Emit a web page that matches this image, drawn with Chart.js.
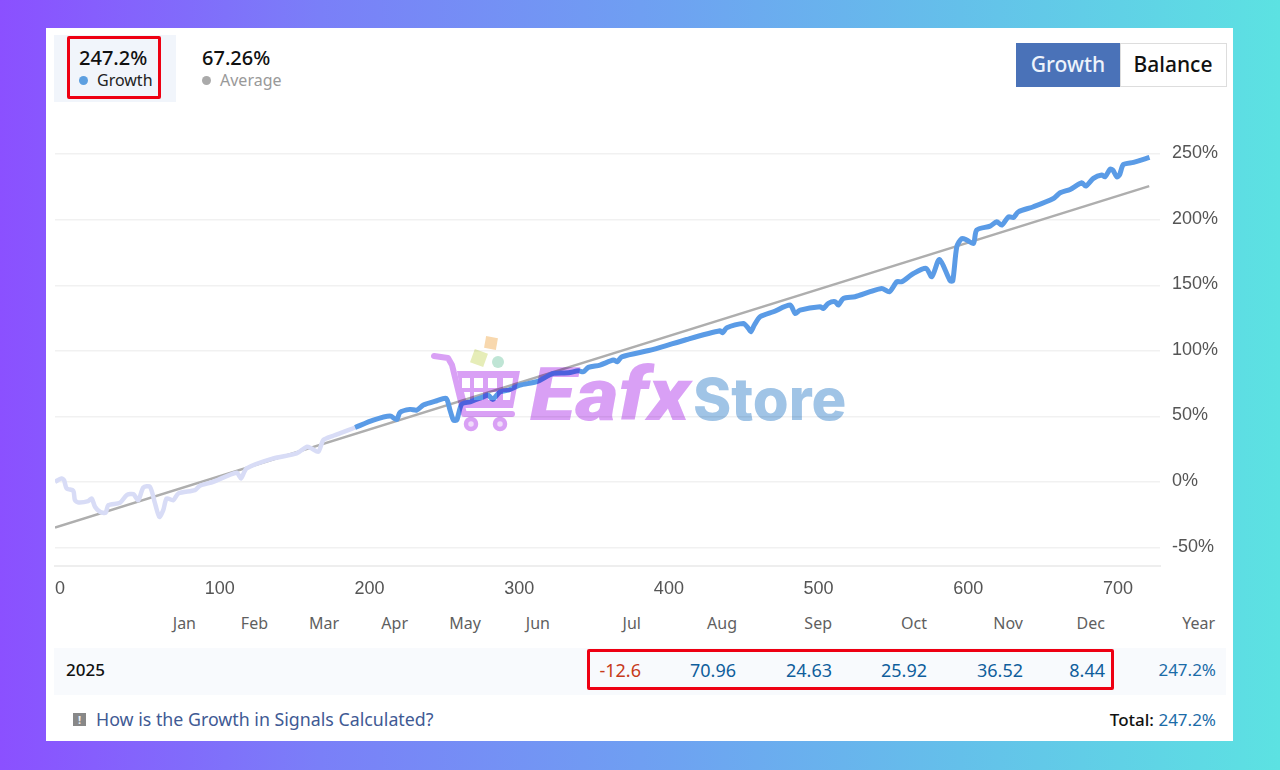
<!DOCTYPE html>
<html>
<head>
<meta charset="utf-8">
<title>Growth</title>
<script src="https://cdn.jsdelivr.net/npm/chart.js@4"></script>
<style>
    html, body { margin: 0; padding: 0; width: 1280px; height: 770px; overflow: hidden; }
    body { position: relative; background: linear-gradient(90deg, #8b50ff 0%, #7a7ff8 25%, #6f9ff2 50%, #64c0ea 75%, #5ce2e2 100%); font-family: "Noto Sans", sans-serif; }
    #card { position: absolute; left: 46px; top: 28px; width: 1187px; height: 713px; background: #fff; }
    #chart { position: absolute; left: 0; top: 0; }
    .abs { position: absolute; white-space: nowrap; line-height: 1; }
    .box { position: absolute; box-sizing: border-box; }
    .dot { position: absolute; width: 9px; height: 9px; border-radius: 50%; }
    .right { transform: translateX(-100%); }
    .center { transform: translateX(-50%); }
    #mark { position: absolute; left: 0; top: 0; mix-blend-mode: multiply; }
</style>
</head>
<body>
<div id="card"></div>

<!-- 上部の統計 -->
<div class="box" style="left:54px;top:35px;width:122px;height:67px;background:#f1f5fb"></div>
<div class="box" style="left:67px;top:36px;width:94px;height:63px;border:3px solid #ee0012;border-radius:2px"></div>
<div class="abs" id="statGrowth" style="left:79px;top:48px;font-size:20px;font-weight:500;color:#111"></div>
<div class="dot" style="left:79px;top:76px;background:#5d9fe0"></div>
<div class="abs" style="left:97px;top:72px;font-size:16px;color:#222">Growth</div>
<div class="abs" id="statAverage" style="left:202px;top:48px;font-size:20px;font-weight:500;color:#111"></div>
<div class="dot" style="left:202px;top:76px;background:#aaa"></div>
<div class="abs" style="left:220px;top:72px;font-size:16px;color:#999">Average</div>

<!-- ボタン -->
<div class="box" style="left:1016px;top:43px;width:105px;height:44px;background:#4a72b8"></div>
<div class="abs center" style="left:1068px;top:54px;font-size:21px;font-weight:500;color:#eef3fb">Growth</div>
<div class="box" style="left:1120px;top:43px;width:107px;height:44px;border:1px solid #ddd;background:#fff"></div>
<div class="abs center" style="left:1173px;top:54px;font-size:21px;font-weight:500;color:#111">Balance</div>

<!-- 月別テーブル -->
<div class="box" style="left:54px;top:648px;width:1172px;height:47px;background:#f8fafd"></div>
<div class="box" style="left:587px;top:649px;width:527px;height:41px;border:3px solid #ee0012;border-radius:2px"></div>
<div id="table"></div>
<div class="abs" id="yearLabel" style="left:66px;top:661px;font-size:17px;font-weight:500;color:#111"></div>

<!-- フッター -->
<div class="box" style="left:73px;top:713px;width:13px;height:13px;background:#888"></div>
<div class="abs" style="left:78px;top:714px;font-size:11px;font-weight:700;color:#eee">!</div>
<div class="abs" style="left:96px;top:711px;font-size:17.8px;color:#3f5a94">How is the Growth in Signals Calculated?</div>
<div class="abs right" id="totalLine" style="left:1216px;top:711px;font-size:17px;font-weight:500;color:#111"></div>

<canvas id="chart" width="1280" height="770"></canvas>

<!-- ウォーターマーク -->
<svg id="mark" width="1280" height="770">
    <rect x="485" y="337" width="12" height="12" fill="#f8d8ae" transform="rotate(10 491 343)"/>
    <rect x="472" y="351" width="14" height="14" fill="#e6edb8" transform="rotate(20 479 358)"/>
    <circle cx="498" cy="362" r="6" fill="#bfe5d5"/>
    <path d="M434 356 L448 358 L452 365 L464 414 L512 414" fill="none" stroke="#d9a0f5" stroke-width="6" stroke-linecap="round" stroke-linejoin="round"/>
    <path fill-rule="evenodd" fill="#d9a0f5" d="M457 371 L520 371 L513 408 L463 408 Z M462 378 L462 388 L470 388 L470 378 Z M474 378 L474 388 L483 388 L483 378 Z M488 378 L488 388 L497 388 L497 378 Z M503 378 L503 388 L512 388 L513 378 Z M464 392 L466 400 L470 400 L470 392 Z M474 392 L474 400 L483 400 L483 392 Z M488 392 L488 400 L497 400 L497 392 Z M503 392 L503 400 L510 400 L511 392 Z"/>
    <circle cx="471" cy="424" r="5" fill="#f0dcfb" stroke="#d9a0f5" stroke-width="4.5"/>
    <circle cx="500" cy="424" r="5" fill="#f0dcfb" stroke="#d9a0f5" stroke-width="4.5"/>
    <text x="530" y="420" font-family="Roboto, sans-serif" font-weight="900" font-size="74" font-style="italic" fill="#d9a0f5" textLength="160" lengthAdjust="spacingAndGlyphs">Eafx</text>
    <text x="693" y="420" font-family="Inter, sans-serif" font-weight="800" font-size="58" fill="#a0c4e6">Store</text>
</svg>

<script>
// ========================================
// データ
// ========================================

// 序盤の薄い線
const earlyX = [-10, -5.6, -4, -2.2, 2.2, 3.3, 5.6, 12.2, 14.5, 16.7, 20, 23.8, 25.6, 33.4, 37.9, 42.3, 45.6, 49, 53.4, 56.8, 59.7, 62.3, 64.6, 69, 72.4, 83.5, 86.8, 95.7, 111.3, 114.2, 118, 135.8, 151.4, 158.1, 161.4, 165.9, 169.2, 175.9, 190.4];
const earlyY = [0.2, 2.8, 1.5, -4.9, -6.6, -13.8, -15.5, -14.5, -12.5, -18.8, -22.6, -23.4, -17.6, -15.8, -9.9, -9.2, -13.8, -4.1, -3.6, -16.3, -26.5, -21.4, -12.5, -13.8, -8.7, -6.1, -2.8, 0.2, 7.1, 2.8, 10.4, 18, 21.8, 26.9, 25.6, 23.1, 32, 35.3, 41.6];

// 青い線
const growthX = [190.4, 202.6, 213.8, 218.2, 220.4, 227.1, 231.6, 236, 245, 251.2, 253.8, 256.1, 258.3, 261.6, 267.2, 276.1, 279.4, 282.3, 287.2, 292.8, 300.6, 311.7, 322.9, 332.9, 339.6, 342.9, 346.2, 354, 363, 365.6, 368.5, 389.7, 411.9, 434.2, 435.8, 438.7, 449.8, 453.1, 454.7, 457.1, 460.9, 469.8, 481, 484.3, 487.6, 501, 503.2, 506.5, 511, 513.2, 516.5, 524.3, 534.4, 542.2, 547.3, 552.2, 555.5, 563.3, 571.8, 575.6, 580.7, 587.8, 589.6, 592.3, 595.6, 598.9, 603.4, 605.6, 614.5, 619, 622.3, 626.8, 630.1, 633.4, 643.5, 656.8, 661.3, 668, 675.8, 678.4, 683.5, 689.1, 691.3, 694.7, 696.5, 699.1, 700.9, 703.6, 710.3, 721];
const growthY = [41.6, 47.2, 50.3, 47.7, 53.1, 55.4, 54.8, 58.7, 62, 63.8, 54.9, 47.2, 47.2, 59.4, 61.2, 65, 66.3, 63, 68.8, 70.1, 73.9, 76.5, 82.8, 83.3, 84.8, 84.1, 87.4, 89.2, 93, 91.7, 95.5, 101.1, 108.7, 115.3, 113.8, 117.6, 120.9, 117.1, 114.6, 119.7, 126, 129.8, 134.9, 128.5, 131.1, 133.6, 132.4, 136.2, 137.5, 134.9, 140, 141.3, 145.1, 147.6, 145.1, 152.7, 152.7, 159, 162.9, 156.5, 169.7, 153.5, 153.5, 179.4, 185.7, 184.5, 181.9, 192.1, 195.1, 198.4, 195.9, 202.2, 201.7, 206, 209.9, 216.2, 220.5, 223.1, 228.2, 225.6, 231.5, 234, 232.7, 238.6, 237.8, 232.7, 234, 242.1, 243.7, 247.5];

// 平均線
const averageX = [-10, 720.8];
const averageY = [-34.7, 225.6];

// 目盛り
const xTickValues = [-10, 100, 200, 300, 400, 500, 600, 700, 728];
const xTickLabels = ['0', '100', '200', '300', '400', '500', '600', '700', ''];
const yTickValues = [-50, 0, 50, 100, 150, 200, 250];

// 統計と月別テーブル
const statGrowth = '247.2%';
const statAverage = '67.26%';
const yearLabel = '2025';
const months = ['Jan', 'Feb', 'Mar', 'Apr', 'May', 'Jun', 'Jul', 'Aug', 'Sep', 'Oct', 'Nov', 'Dec', 'Year'];
const monthValues = [null, null, null, null, null, null, -12.6, 70.96, 24.63, 25.92, 36.52, 8.44, null];
const yearTotal = '247.2%';

// 月の右端の位置
const monthRight = [196, 268, 339, 408, 481, 550, 641, 737, 832, 927, 1023, 1105, 1215];
const valueRight = [196, 268, 339, 408, 481, 550, 641, 736, 832, 927, 1023, 1105, 1216];

// ========================================
// DOM
// ========================================

function addText(parent, text, left, top, size, color) {
    const el = document.createElement('div');
    el.className = 'abs right';
    el.style.cssText = `left:${left}px;top:${top}px;font-size:${size}px;color:${color}`;
    el.textContent = text;
    parent.appendChild(el);
}

document.getElementById('statGrowth').textContent = statGrowth;
document.getElementById('statAverage').textContent = statAverage;
document.getElementById('yearLabel').textContent = yearLabel;
document.getElementById('totalLine').innerHTML = `Total: <span style="color:#1b6ca8;font-weight:400">${yearTotal}</span>`;

const table = document.getElementById('table');
months.forEach((m, i) => {
    addText(table, m, monthRight[i], 615, 16, '#5f5f5f');
    const value = monthValues[i];
    if (value !== null) {
        addText(table, String(value), valueRight[i], 661, 18, value < 0 ? '#c73a1a' : '#0f5e9c');
    }
});
addText(table, yearTotal, valueRight[12], 661, 17, '#1b6ca8');

// ========================================
// チャート
// ========================================

const toPoints = (xs, ys) => xs.map((x, i) => ({ x: x, y: ys[i] }));

new Chart(document.getElementById('chart').getContext('2d'), {
    type: 'line',
    data: {
        datasets: [
            {
                label: 'Growth',
                data: toPoints(growthX, growthY),
                borderColor: '#5a9be6',
                borderWidth: 5,
                pointRadius: 0,
                tension: 0.25,
                order: 1
            },
            {
                label: 'Growth early',
                data: toPoints(earlyX, earlyY),
                borderColor: '#d8dcf6',
                borderWidth: 4.5,
                pointRadius: 0,
                tension: 0.25,
                order: 2
            },
            {
                label: 'Average',
                data: toPoints(averageX, averageY),
                borderColor: '#aeaeae',
                borderWidth: 2.5,
                pointRadius: 0,
                order: 3
            }
        ]
    },
    options: {
        responsive: false,
        animation: false,
        devicePixelRatio: 1,
        layout: { padding: { left: 55, top: 120, right: 0, bottom: 0 } },
        plugins: { legend: { display: false }, tooltip: { enabled: false } },
        scales: {
            x: {
                type: 'linear',
                min: -10,
                max: 728,
                afterFit: scale => { scale.height = 204.5; },
                afterBuildTicks: scale => { scale.ticks = xTickValues.map(v => ({ value: v })); },
                grid: { display: false },
                border: { color: '#eeeeee', width: 2 },
                ticks: {
                    align: 'inner',
                    autoSkip: false,
                    maxRotation: 0,
                    padding: 5,
                    color: '#555',
                    font: { family: '"Liberation Sans"', size: 18 },
                    callback: (value, index) => xTickLabels[index]
                }
            },
            y: {
                position: 'right',
                min: -63.6,
                max: 276,
                afterFit: scale => { scale.width = 120; },
                afterBuildTicks: scale => { scale.ticks = yTickValues.map(v => ({ value: v })); },
                grid: { color: '#f1f1f1', lineWidth: 1.5, drawTicks: false },
                border: { display: false },
                ticks: {
                    padding: 12,
                    labelOffset: -1,
                    color: '#555',
                    font: { family: '"Liberation Sans"', size: 18 },
                    callback: value => value + '%'
                }
            }
        }
    }
});
</script>
</body>
</html>
